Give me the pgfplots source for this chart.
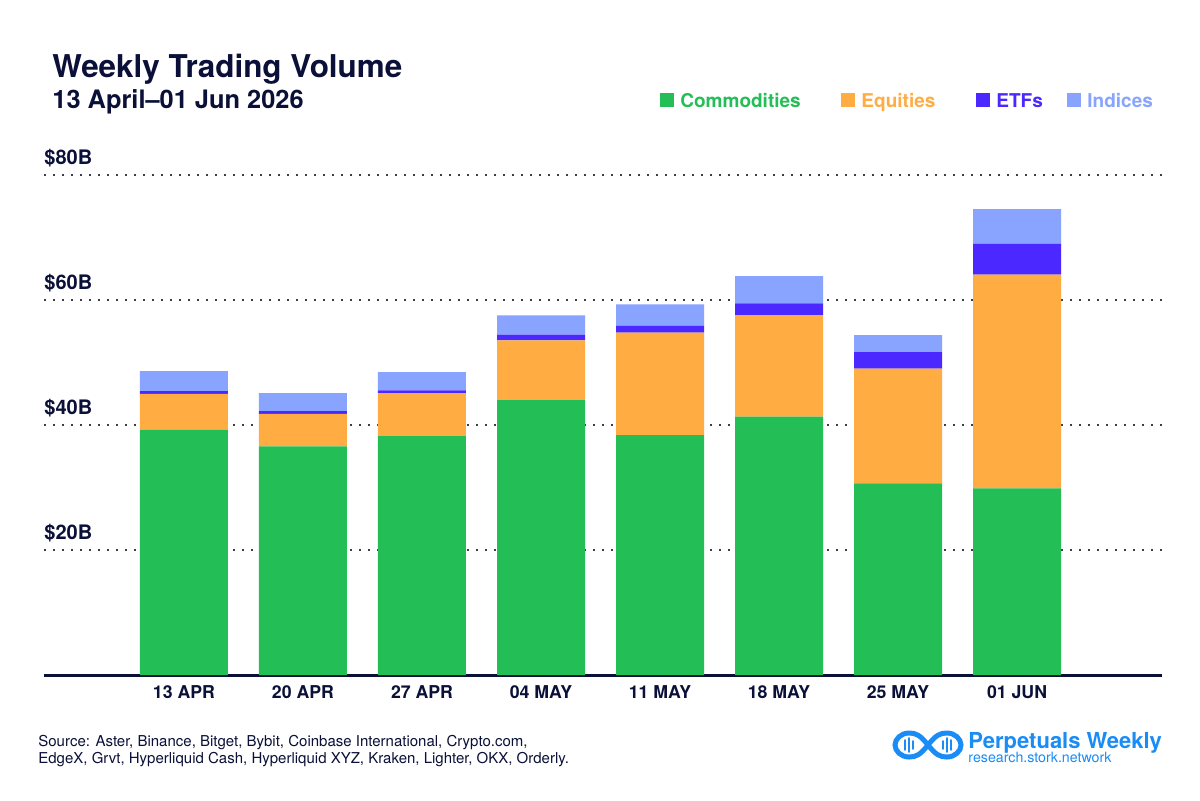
\documentclass[border=0pt]{standalone}
\usepackage{pgfplots}
\usepackage{pgfplotstable}
\pgfplotsset{compat=1.18}
\usepackage{fontspec}
\setmainfont{TeX Gyre Heros}
\definecolor{navy}{RGB}{11,16,56}
\definecolor{cgreen}{RGB}{35,190,85}
\definecolor{corange}{RGB}{255,173,66}
\definecolor{cetf}{RGB}{74,40,255}
\definecolor{cind}{RGB}{136,164,255}
\definecolor{logoblue}{RGB}{26,140,245}
\definecolor{dotgray}{RGB}{60,60,75}

\pgfplotstableread{
x com eq etf ind
0 39.25 5.75 0.44 3.20
1 36.60 5.20 0.44 2.88
2 38.24 6.88 0.43 2.93
3 44.00 9.55 0.90 3.10
4 38.40 16.37 1.12 3.42
5 41.33 16.27 1.87 4.37
6 30.67 18.34 2.67 2.72
7 29.87 34.18 4.96 5.55
}\datatable

\begin{document}
\begin{tikzpicture}[x=0.5pt,y=-0.5pt]
\path[fill=white] (0,0) rectangle (1200,800);
\begin{axis}[
  at={(22pt,-337.5pt)}, anchor=south west,
  scale only axis, width=559pt, height=250pt,
  xmin=-1.176, xmax=8.218, ymin=0, ymax=80,
  enlargelimits=false,
  ybar stacked, bar width=44pt,
  axis line style={draw=none},
  tick style={draw=none},
  major tick length=0pt,
  ytick={20,40,60,80},
  yticklabels={\$20B,\$40B,\$60B,\$80B},
  yticklabel style={anchor=base west, inner sep=0pt, yshift=5.5pt, font=\fontsize{10pt}{12pt}\selectfont\bfseries, text=navy},
  xtick={0,...,7},
  xticklabels={13 APR,20 APR,27 APR,04 MAY,11 MAY,18 MAY,25 MAY,01 JUN},
  xticklabel style={anchor=center, inner sep=0pt, yshift=-8.5pt, font=\fontsize{8.85pt}{10pt}\selectfont\bfseries, text=navy},
  ymajorgrids,
  grid style={draw=dotgray, line width=1pt, dash pattern=on 1pt off 3.5pt},
  clip=false,
]
\addplot[fill=cgreen, draw=none] table[x=x,y=com]{\datatable};
\addplot[fill=corange, draw=none] table[x=x,y=eq]{\datatable};
\addplot[fill=cetf, draw=none] table[x=x,y=etf]{\datatable};
\addplot[fill=cind, draw=none] table[x=x,y=ind]{\datatable};
\draw[navy, line width=1.5pt] (rel axis cs:0,0) -- (rel axis cs:1,0);
\end{axis}

% titles
\node[anchor=base west, inner sep=0pt, text=navy, font=\fontsize{15.7pt}{18pt}\selectfont\bfseries] at (52,77) {Weekly Trading Volume};
\node[anchor=base west, inner sep=0pt, text=navy, font=\fontsize{12.7pt}{15pt}\selectfont\bfseries] at (52,108) {13 April–01 Jun 2026};

% legend
\fill[cgreen] (660,93) rectangle (674,107);
\node[anchor=base west, inner sep=0pt, text=cgreen, font=\fontsize{9.5pt}{11pt}\selectfont\bfseries] at (680,107) {Commodities};
\fill[corange] (841,93) rectangle (855,107);
\node[anchor=base west, inner sep=0pt, text=corange, font=\fontsize{9.5pt}{11pt}\selectfont\bfseries] at (861,107) {Equities};
\fill[cetf] (976,93) rectangle (990,107);
\node[anchor=base west, inner sep=0pt, text=cetf, font=\fontsize{9.5pt}{11pt}\selectfont\bfseries] at (996,107) {ETFs};
\fill[cind] (1067,93) rectangle (1081,107);
\node[anchor=base west, inner sep=0pt, text=cind, font=\fontsize{9.5pt}{11pt}\selectfont\bfseries] at (1087,107) {Indices};

% source
\node[anchor=base west, inner sep=0pt, text=navy, font=\fontsize{7.5pt}{9pt}\selectfont] at (38,746) {Source: Aster, Binance, Bitget, Bybit, Coinbase International, Crypto.com,};
\node[anchor=base west, inner sep=0pt, text=navy, font=\fontsize{7.5pt}{9pt}\selectfont] at (38,763) {EdgeX, Grvt, Hyperliquid Cash, Hyperliquid XYZ, Kraken, Lighter, OKX, Orderly.};

% logo
\draw[logoblue, line width=2.5pt] (928,745) .. controls (936,735) and (940,733) .. (947,733) .. controls (955,733) and (961,739) .. (961,745) .. controls (961,751) and (955,757) .. (947,757) .. controls (940,757) and (936,755) .. (928,745) .. controls (920,735) and (916,733) .. (909,733) .. controls (901,733) and (895,739) .. (895,745) .. controls (895,751) and (901,757) .. (909,757) .. controls (916,757) and (920,755) .. (928,745);
\draw[logoblue, line width=0.9pt, line cap=round] (905,740) -- (905,750) (909,738) -- (909,752) (913,741) -- (913,749) (943,741) -- (943,749) (947,738) -- (947,752) (951,740) -- (951,750);
\node[anchor=base west, inner sep=0pt, text=logoblue, font=\fontsize{11pt}{13pt}\selectfont\bfseries] at (968,748) {Perpetuals Weekly};
\node[anchor=base west, inner sep=0pt, text=logoblue, font=\fontsize{7.1pt}{8pt}\selectfont] at (968,762) {research.stork.network};
\end{tikzpicture}
\end{document}
